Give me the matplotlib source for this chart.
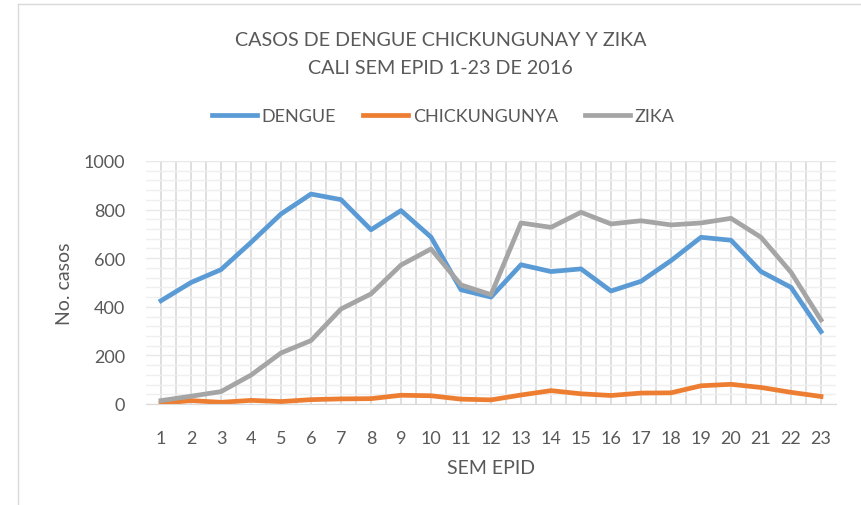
import matplotlib.pyplot as plt
from matplotlib.lines import Line2D

semanas = list(range(1, 24))
dengue = [425, 500, 553, 665, 782, 864, 841, 717, 796, 687, 470, 440, 573, 545, 556,
          465, 505, 590, 686, 674, 545, 480, 298]
chikungunya = [3, 14, 7, 15, 10, 18, 21, 22, 36, 34, 20, 17, 37, 55, 42,
               35, 45, 46, 75, 81, 68, 48, 31]
zika = [14, 32, 51, 119, 210, 261, 391, 453, 572, 638, 490, 450, 745, 727, 789,
        741, 754, 737, 745, 764, 686, 542, 346]

txt = "#595959"
plt.rcParams["font.family"] = ["Lato", "DejaVu Sans"]

fig = plt.figure(figsize=(8.61, 5.06), dpi=100)
ax = fig.add_axes([146 / 861, 101 / 506, 690 / 861, 243 / 506])

ax.plot(semanas, dengue, color="#5B9BD5", lw=3.4, label="DENGUE", solid_joinstyle="round")
ax.plot(semanas, chikungunya, color="#ED7D31", lw=3.4, label="CHICKUNGUNYA", solid_joinstyle="round")
ax.plot(semanas, zika, color="#A5A5A5", lw=3.4, label="ZIKA", solid_joinstyle="round")

ax.set_xlim(0.5, 23.5)
ax.set_ylim(0, 1000)
ax.set_xticks(semanas)
ax.set_xticks([s + 0.5 for s in semanas[:-1]], minor=True)
ax.set_yticks(range(0, 1001, 200))
ax.set_yticks(range(0, 1001, 40), minor=True)
ax.grid(True, which="major", axis="x", color="#D9D9D9", lw=1.2, zorder=0)
ax.grid(True, which="minor", axis="x", color="#D9D9D9", lw=1.2, zorder=0)
ax.grid(True, which="major", axis="y", color="#E8E8E8", lw=1.0, zorder=0)
ax.grid(True, which="minor", axis="y", color="#EFEFEF", lw=1.0, zorder=0)
ax.set_axisbelow(True)
for s in ["top", "right", "left"]:
    ax.spines[s].set_visible(False)
ax.spines["bottom"].set_color("#D9D9D9")
ax.tick_params(which="both", length=0, labelsize=13, colors=txt)
ax.tick_params(axis="y", pad=15)
ax.tick_params(axis="x", pad=19)

ax.set_ylabel("No. casos", fontsize=14, color=txt, labelpad=8)
ax.set_xlabel("SEM EPID", fontsize=14, color=txt, labelpad=9)

fig.text(0.512, 0.92, "CASOS DE DENGUE CHICKUNGUNAY Y ZIKA", ha="center", va="center",
         fontsize=14.2, color=txt)
fig.text(0.512, 0.864, "CALI SEM EPID 1-23 DE 2016", ha="center", va="center",
         fontsize=14.2, color=txt)

fig.legend(loc="center", bbox_to_anchor=(0.515, 0.768), ncol=3, frameon=False,
           fontsize=13, labelcolor=txt, handlelength=2.5, handletextpad=0.25,
           columnspacing=1.5)

fig.add_artist(Line2D([18 / 861, 18 / 861], [0, 1 - 5 / 506], color="#D9D9D9", lw=1))
fig.add_artist(Line2D([18 / 861, 1], [1 - 5 / 506, 1 - 5 / 506], color="#D9D9D9", lw=1))

fig.savefig("out.png", dpi=100)
